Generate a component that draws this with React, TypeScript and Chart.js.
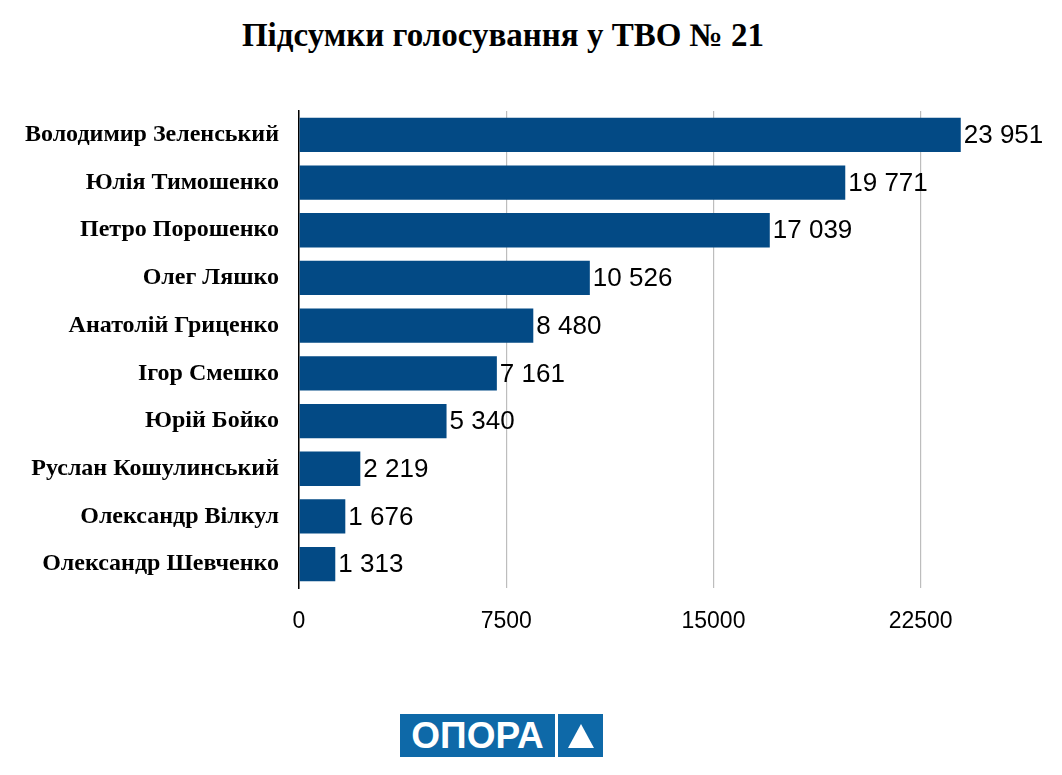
import React, { useEffect, useRef } from 'react'
import { Chart, registerables } from 'chart.js'

Chart.register(...registerables)

const candidates = [
    'Володимир Зеленський',
    'Юлія Тимошенко',
    'Петро Порошенко',
    'Олег Ляшко',
    'Анатолій Гриценко',
    'Ігор Смешко',
    'Юрій Бойко',
    'Руслан Кошулинський',
    'Олександр Вілкул',
    'Олександр Шевченко',
]
const votes = [23951, 19771, 17039, 10526, 8480, 7161, 5340, 2219, 1676, 1313]
const axisTicks = [0, 7500, 15000, 22500]

const fmt = (n: number) => String(n).replace(/\B(?=(\d{3})+(?!\d))/g, ' ')

const valueLabels = {
    id: 'valueLabels',
    afterDatasetsDraw(chart: any) {
        const ctx = chart.ctx
        const meta = chart.getDatasetMeta(0)
        ctx.save()
        ctx.font = '26px "Liberation Sans", Arial, sans-serif'
        ctx.fillStyle = '#000'
        ctx.textBaseline = 'middle'
        ctx.textAlign = 'left'
        meta.data.forEach((bar: any, i: number) => {
            ctx.fillText(fmt(votes[i]), bar.x + 3, bar.y + 1)
        })
        ctx.restore()
    },
}

export default function App() {
    const canvasRef = useRef<HTMLCanvasElement>(null)

    useEffect(() => {
        document.body.style.margin = '0'
        const chart = new Chart(canvasRef.current!, {
            type: 'bar',
            data: {
                labels: candidates,
                datasets: [{
                    data: votes,
                    backgroundColor: '#034a85',
                    barPercentage: 0.72,
                    categoryPercentage: 1,
                }],
            },
            options: {
                indexAxis: 'y',
                animation: false,
                responsive: false,
                layout: { padding: { top: 111, right: 17, bottom: 147, left: 0 } },
                plugins: {
                    legend: { display: false },
                    tooltip: { enabled: false },
                },
                scales: {
                    x: {
                        min: 0,
                        max: 27000,
                        afterBuildTicks: (axis: any) => {
                            axis.ticks = axisTicks.map(v => ({ value: v }))
                        },
                        afterFit: (axis: any) => { axis.height = 40 },
                        grid: { color: '#bdbdbd', lineWidth: 1.2, drawTicks: false },
                        border: { display: false },
                        ticks: {
                            padding: 20,
                            color: '#000',
                            font: { family: '"Liberation Sans", Arial, sans-serif', size: 23 },
                            maxRotation: 0,
                            callback: (v: any) => String(v),
                        },
                    },
                    y: {
                        afterFit: (axis: any) => { axis.width = 299 },
                        grid: { display: false, drawTicks: false },
                        border: { display: true, color: '#000', width: 1.5 },
                        ticks: {
                            padding: 20,
                            color: '#000',
                            font: { family: '"Liberation Serif", "Times New Roman", serif', size: 24, weight: 'bold' },
                        },
                    },
                },
            },
            plugins: [valueLabels],
        })
        return () => {
            chart.destroy()
        }
    })

    return <div style={{ position: 'relative', width: 1062, height: 775, background: '#fff' }}>
        <div style={{
            position: 'absolute', top: 17, left: 0, width: 1006, textAlign: 'center',
            font: 'bold 33px "Liberation Serif", "Times New Roman", serif', color: '#000',
        }}>Підсумки голосування у ТВО № 21</div>
        <canvas ref={canvasRef} width={1062} height={775} style={{ position: 'absolute', left: 0, top: 0 }}></canvas>
        <div style={{
            position: 'absolute', left: 400, top: 714, width: 155, height: 43, background: '#0e69a8',
            color: '#fff', font: 'bold 37px "Liberation Sans", Arial, sans-serif',
            display: 'flex', alignItems: 'center', justifyContent: 'center',
        }}>ОПОРА</div>
        <div style={{
            position: 'absolute', left: 558, top: 714, width: 45, height: 43, background: '#0e69a8',
            display: 'flex', alignItems: 'center', justifyContent: 'center',
        }}>
            <div style={{ width: 0, height: 0, borderLeft: '13px solid transparent', borderRight: '13px solid transparent', borderBottom: '24px solid #fff' }}></div>
        </div>
    </div>
}
